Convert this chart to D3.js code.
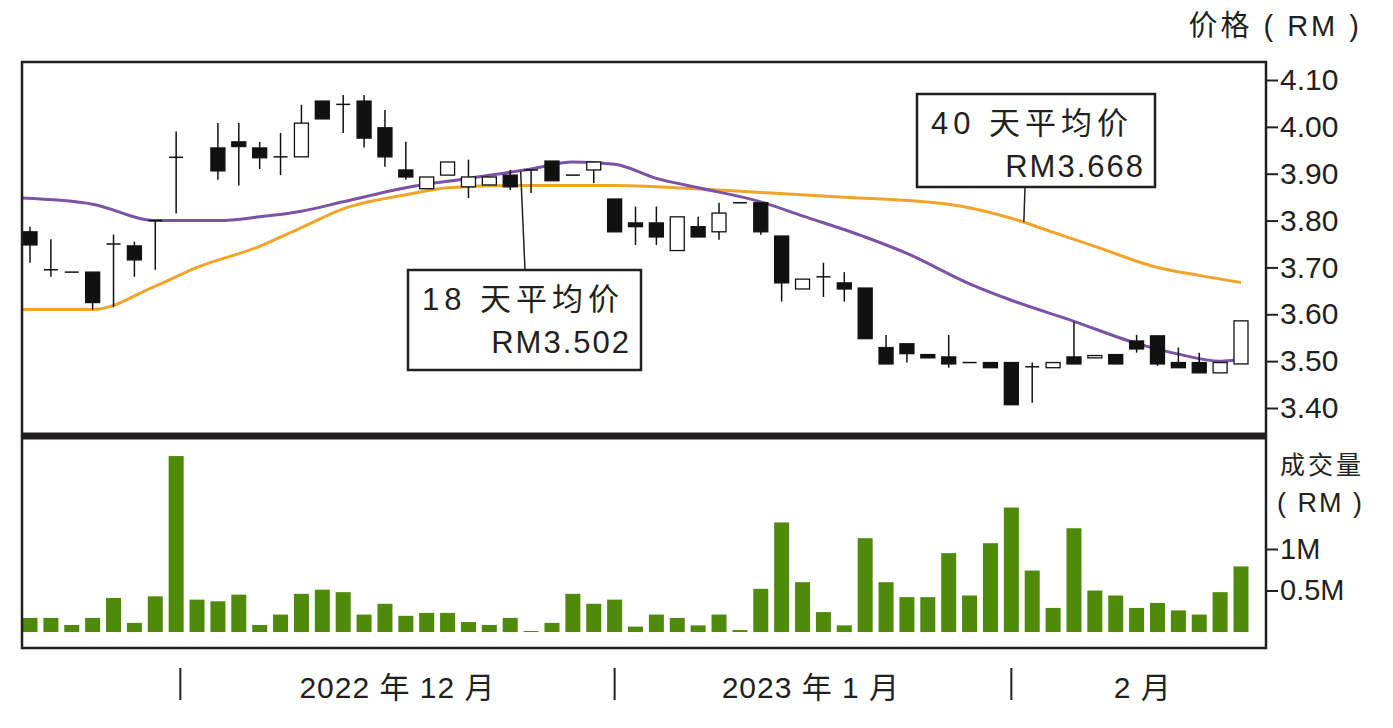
<!DOCTYPE html>
<html><head><meta charset="utf-8">
<script src="https://cdn.jsdelivr.net/npm/d3@7"></script>
<style>body{margin:0;background:#fff}text{font-family:"Liberation Sans","Noto Sans CJK SC",sans-serif;fill:#231f20}</style>
</head><body><svg id="c" width="1393" height="728"></svg>
<script>
// [open, high, low, close]; null = no candle
const candles = [
[3.776,3.787,3.71,3.748],[3.695,3.76,3.68,3.695],[3.69,3.69,3.69,3.69],[3.69,3.69,3.61,3.625],
[3.75,3.77,3.615,3.75],[3.746,3.755,3.68,3.716],[3.80,3.80,3.695,3.80],[3.935,3.99,3.815,3.935],
null,[3.955,4.008,3.887,3.906],[3.968,4.008,3.875,3.958],[3.955,3.968,3.91,3.934],
[3.936,3.987,3.897,3.936],[3.936,4.047,3.936,4.008],[4.055,4.055,4.017,4.017],[4.045,4.068,3.987,4.048],
[4.055,4.068,3.956,3.976],[3.998,4.036,3.915,3.936],[3.908,3.968,3.887,3.893],[3.868,3.893,3.868,3.893],
[3.897,3.925,3.897,3.925],[3.872,3.93,3.848,3.893],[3.876,3.893,3.876,3.893],[3.897,3.908,3.865,3.872],
[3.908,3.908,3.859,3.908],[3.927,3.927,3.885,3.885],[3.897,3.897,3.897,3.897],[3.908,3.925,3.88,3.925],
[3.846,3.846,3.776,3.776],[3.795,3.83,3.748,3.787],[3.795,3.83,3.748,3.765],[3.736,3.808,3.736,3.808],
[3.787,3.808,3.765,3.765],[3.776,3.838,3.759,3.816],[3.838,3.838,3.838,3.838],[3.838,3.838,3.77,3.776],
[3.767,3.767,3.627,3.667],[3.654,3.675,3.654,3.675],[3.68,3.71,3.637,3.68],[3.667,3.69,3.627,3.654],
[3.656,3.656,3.548,3.548],[3.529,3.556,3.494,3.494],[3.537,3.537,3.497,3.516],[3.514,3.514,3.507,3.507],
[3.509,3.556,3.486,3.494],[3.497,3.497,3.497,3.497],[3.497,3.497,3.486,3.486],[3.497,3.497,3.407,3.407],
[3.488,3.497,3.411,3.488],[3.486,3.497,3.486,3.497],[3.509,3.584,3.494,3.494],[3.507,3.512,3.507,3.512],
[3.514,3.514,3.494,3.494],[3.543,3.556,3.518,3.526],[3.554,3.554,3.49,3.494],[3.497,3.529,3.486,3.486],
[3.497,3.518,3.475,3.475],[3.475,3.497,3.475,3.497],[3.494,3.586,3.494,3.586]
];
const volumes = [0.17,0.17,0.085,0.17,0.41,0.11,0.43,2.12,0.39,0.37,0.45,0.085,0.21,0.46,0.51,0.48,0.21,0.34,0.195,0.23,
0.23,0.12,0.085,0.17,0.012,0.11,0.46,0.34,0.39,0.065,0.21,0.17,0.08,0.21,0.024,0.52,1.32,0.6,0.24,0.08,
1.13,0.6,0.42,0.42,0.95,0.44,1.07,1.5,0.74,0.29,1.25,0.5,0.44,0.29,0.35,0.26,0.21,0.48,0.79];
const ma18 = [[0,3.848],[3,3.835],[6,3.80],[9,3.80],[11,3.808],[13,3.82],[15,3.84],[18,3.87],[21,3.89],[24,3.91],
[26,3.925],[28,3.92],[30,3.89],[32,3.87],[35,3.84],[37,3.81],[40,3.765],[42,3.73],[45,3.665],[47,3.63],[50,3.585],
[53,3.538],[55,3.515],[57,3.50],[58,3.503]];
const ma40 = [[0,3.61],[3,3.61],[6,3.66],[8,3.70],[11,3.745],[13,3.785],[15,3.825],[18,3.855],[20,3.87],[23,3.875],
[28,3.875],[33,3.865],[35,3.86],[39,3.85],[44,3.835],[47,3.805],[49,3.775],[51,3.745],[54,3.70],[56,3.683],[58,3.668]];
const priceTicks = [3.40,3.50,3.60,3.70,3.80,3.90,4.00,4.10];
const volTicks = [0.5,1];
const monthTickIdx = [7.2,28,47];
const monthLabels = [[17.6,"2022 年 12 月"],[37.4,"2023 年 1 月"],[53.3,"2 月"]];

const svg = d3.select("#c");
const x = d3.scaleLinear().domain([0,58]).range([30,1241]);
const y = d3.scaleLinear().domain([3.40,4.10]).range([408,80]);
const yv = d3.scaleLinear().domain([0,1]).range([632,549]);

svg.append("g").selectAll("rect").data(volumes).join("rect")
  .attr("x",(d,i)=>x(i)-7.5).attr("width",15)
  .attr("y",d=>yv(d)).attr("height",d=>yv(0)-yv(d)).attr("fill","#4f8a0b");

const maLine = d3.line().x((d,i)=>i==0?22:x(d[0])).y(d=>y(d[1])).curve(d3.curveMonotoneX);
svg.append("path").datum(ma40).attr("d",maLine).attr("fill","none").attr("stroke","#f2a32a").attr("stroke-width",3);
svg.append("path").datum(ma18).attr("d",maLine).attr("fill","none").attr("stroke","#7b52a6").attr("stroke-width",3);

const cg = svg.append("g");
candles.forEach((c,i)=>{
  if(!c) return;
  const [o,h,l,cl]=c, cx=x(i);
  cg.append("line").attr("x1",cx).attr("x2",cx).attr("y1",y(h)).attr("y2",y(l)).attr("stroke","#111").attr("stroke-width",1.5);
  const top=y(Math.max(o,cl)), bot=y(Math.min(o,cl));
  if(bot-top<1.5){
    cg.append("line").attr("x1",cx-7).attr("x2",cx+7).attr("y1",top).attr("y2",top).attr("stroke","#111").attr("stroke-width",1.5);
  } else {
    cg.append("rect").attr("x",cx-7).attr("width",14).attr("y",top).attr("height",bot-top)
      .attr("fill",cl>=o?"#fff":"#111").attr("stroke","#111").attr("stroke-width",1.3);
  }
});

svg.append("rect").attr("x",22).attr("y",62).attr("width",1244).attr("height",586).attr("fill","none").attr("stroke","#231f20").attr("stroke-width",2.5);
svg.append("line").attr("x1",22).attr("x2",1266).attr("y1",436).attr("y2",436).attr("stroke","#231f20").attr("stroke-width",7);

const ya = svg.append("g").attr("transform","translate(1266,0)")
  .call(d3.axisRight(y).tickValues(priceTicks).tickFormat(d3.format(".2f")).tickSize(12).tickPadding(2));
ya.select(".domain").remove();
ya.selectAll("line").attr("stroke","#231f20").attr("stroke-width",2);
ya.selectAll("text").style("font-size","30px").style("fill","#231f20");
svg.append("text").attr("x",1362).attr("y",36).attr("text-anchor","end").style("font-size","29px").style("letter-spacing","3px").text("价格 ( RM )");

const va = svg.append("g").attr("transform","translate(1266,0)")
  .call(d3.axisRight(yv).tickValues(volTicks).tickFormat(d=>d===1?"1M":"0.5M").tickSize(12).tickPadding(2));
va.select(".domain").remove();
va.selectAll("line").attr("stroke","#231f20").attr("stroke-width",2);
va.selectAll("text").style("font-size","29px").style("fill","#231f20");
svg.append("text").attr("x",1364).attr("y",474).attr("text-anchor","end").style("font-size","25px").style("letter-spacing","3px").text("成交量");
svg.append("text").attr("x",1364).attr("y",512).attr("text-anchor","end").style("font-size","27px").style("letter-spacing","2px").text("( RM )");

// month ticks and labels
svg.append("g").selectAll("line").data(monthTickIdx).join("line")
  .attr("x1",d=>x(d)).attr("x2",d=>x(d)).attr("y1",668).attr("y2",700).attr("stroke","#231f20").attr("stroke-width",2);
svg.append("g").selectAll("text").data(monthLabels).join("text")
  .attr("x",d=>x(d[0])).attr("y",698).attr("text-anchor","middle").style("font-size","30px").style("letter-spacing","1px").text(d=>d[1]);

// annotation boxes
function note(bx,by,bw,bh,l1,l2,px1,py1,ptIdx,ptVal){
  svg.append("line").attr("x1",px1).attr("y1",py1).attr("x2",x(ptIdx)).attr("y2",y(ptVal)).attr("stroke","#231f20").attr("stroke-width",1.5);
  svg.append("rect").attr("x",bx).attr("y",by).attr("width",bw).attr("height",bh).attr("fill","#fff").attr("stroke","#231f20").attr("stroke-width",2.5);
  svg.append("text").attr("x",bx+14).attr("y",by+40).style("font-size","31px").style("letter-spacing","5px").text(l1);
  svg.append("text").attr("x",bx+bw-10).attr("y",by+83).attr("text-anchor","end").style("font-size","31px").style("letter-spacing","2px").text(l2);
}
note(408,270,233,100,"18 天平均价","RM3.502",525,270,23.5,3.905);
note(917,94,238,93,"40 天平均价","RM3.668",1025,187,47.6,3.797);
</script></body></html>
